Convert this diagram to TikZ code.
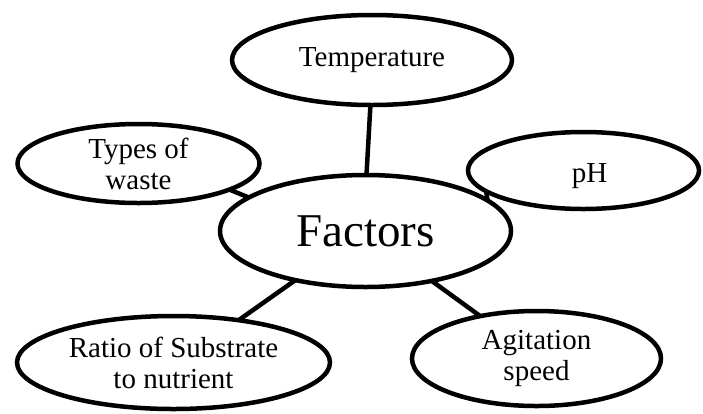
\documentclass[tikz,border=0pt]{standalone}
\usepackage{fontspec}
\setmainfont{Liberation Serif}
\usetikzlibrary{shapes.geometric}
\begin{document}
\begin{tikzpicture}[x=1pt,y=-1pt,
  oval/.style={ellipse,draw,line width=4.5pt,inner sep=0pt,outer sep=0pt,align=center,font=\fontsize{29}{31}\selectfont},
  link/.style={line width=4.5pt}]
\useasboundingbox (0,0) rectangle (703,413);
\node[oval,minimum width=280pt,minimum height=90pt] (temp) at (372,60) {Temperature};
\node[oval,minimum width=242pt,minimum height=79pt] (types) at (138.5,163.5) {Types of\\waste};
\node[oval,minimum width=231pt,minimum height=77pt] (ph) at (583.5,170.5) {\hspace*{12pt}\raisebox{-12pt}[0pt][0pt]{pH}};
\node[oval,minimum width=291pt,minimum height=112pt,font=\fontsize{47}{50}\selectfont] (fac) at (365.5,231) {Factors};
\node[oval,minimum width=313pt,minimum height=93pt] (ratio) at (173.5,362.5) {Ratio of Substrate\\to nutrient};
\node[oval,minimum width=249pt,minimum height=95pt] (agit) at (536.5,358.5) {Agitation\\speed};
\draw[link] (temp.-92.4) -- (fac.89.5);
\draw[link] (types.-16.4) -- (fac.164.8);
\draw[link] (ph.192.8) -- (fac.14.2);
\draw[link] (ratio.33.5) -- (fac.215.1);
\draw[link] (agit.143.7) -- (fac.-37);
\end{tikzpicture}
\end{document}
